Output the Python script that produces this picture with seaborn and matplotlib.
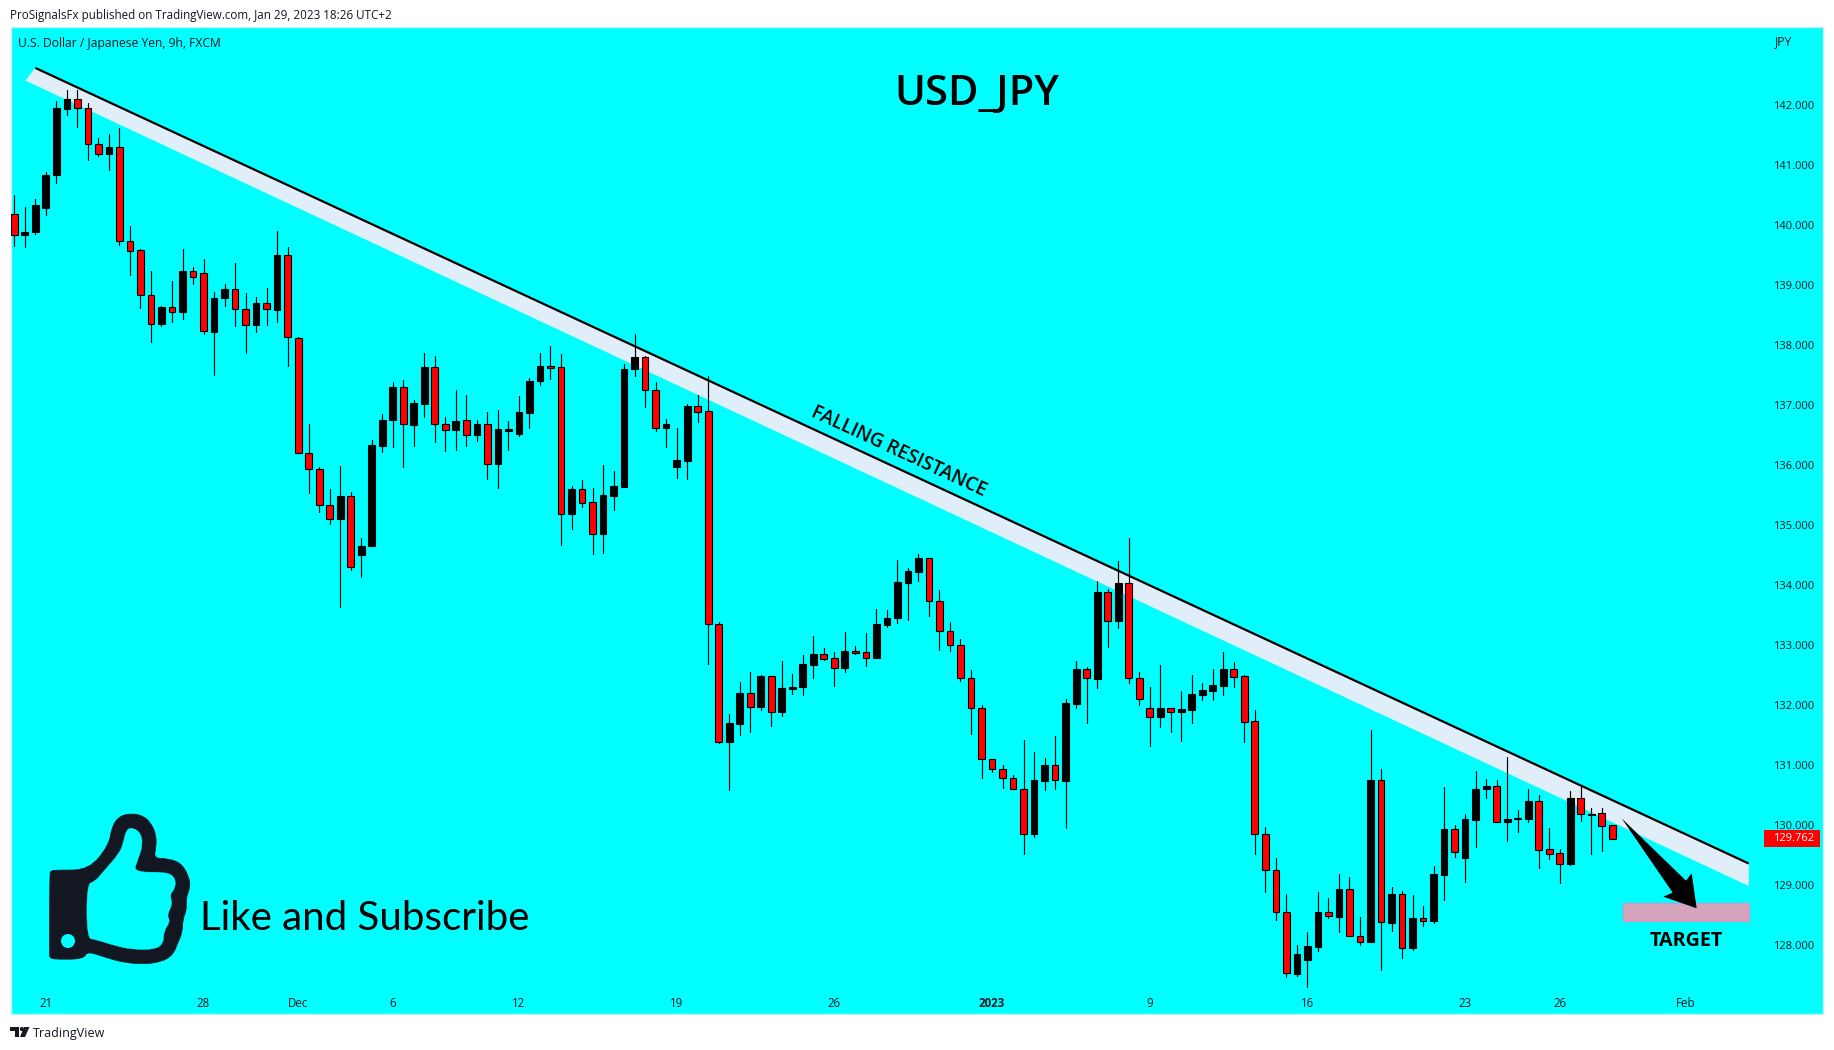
import pandas as pd
import seaborn as sns
import matplotlib.pyplot as plt
from matplotlib.patches import PathPatch, Polygon, Circle, Rectangle
from matplotlib.path import Path
from matplotlib.transforms import Affine2D

# candles (JPY)
highs = [140.49,140.29,140.43,140.87,142.06,142.24,142.24,142.02,141.45,141.51,
    141.61,139.97,139.60,139.23,138.65,139.06,139.59,139.29,139.42,138.88,
    139.01,139.36,138.86,138.79,138.94,139.89,139.62,138.12,136.68,135.96,
    135.59,135.97,135.54,134.77,136.41,136.85,137.38,137.41,137.08,137.86,
    137.81,136.79,137.24,137.16,136.74,136.87,136.91,136.72,137.14,137.44,
    137.86,137.97,137.84,135.64,135.74,135.61,135.99,135.89,137.67,138.17,
    137.81,137.37,136.76,136.61,137.01,137.16,137.47,133.37,131.84,132.37,
    132.54,132.50,132.48,132.73,132.51,132.83,133.14,132.94,132.88,133.21,
    132.98,133.19,133.59,133.58,134.41,134.28,134.51,134.45,133.91,133.38,
    133.09,132.58,131.99,131.10,130.99,130.82,131.41,131.21,131.11,131.48,
    132.09,132.73,132.63,134.06,133.92,134.39,134.78,132.54,132.29,132.66,
    131.95,132.22,132.49,132.36,132.59,132.87,132.71,132.49,131.91,129.96,
    129.44,128.84,127.99,128.21,128.87,128.77,129.17,129.12,128.46,131.57,
    130.92,128.96,128.89,128.82,128.64,129.31,130.62,129.99,130.17,130.89,
    130.76,130.74,131.12,130.24,130.59,130.49,129.95,129.59,130.56,130.63,
    130.27,130.27,129.99]
lows = [139.64,139.62,139.84,140.16,140.70,141.82,141.63,141.07,141.14,140.91,
    139.66,139.16,138.61,138.04,138.31,138.38,138.42,139.01,138.17,137.49,
    138.64,138.31,137.86,138.21,138.32,138.38,137.64,136.19,135.52,135.21,
    135.01,133.62,134.24,134.12,134.64,136.21,136.29,135.96,136.31,136.79,
    136.37,136.22,136.24,136.31,136.39,135.76,135.61,136.24,136.48,136.61,
    137.33,137.42,134.66,134.92,135.29,134.51,134.52,135.24,135.62,137.47,
    136.96,136.56,136.29,135.77,135.76,136.71,132.67,131.36,130.57,131.49,
    131.54,131.91,131.64,131.81,132.18,132.16,132.44,132.74,132.31,132.54,
    132.84,132.64,132.77,133.29,133.36,133.41,134.06,133.48,132.91,132.89,
    132.39,131.51,130.78,130.88,130.61,130.60,129.51,129.79,130.58,130.59,
    129.94,131.94,131.69,132.28,132.96,133.28,132.36,131.99,131.31,131.62,
    131.54,131.39,131.69,132.07,132.07,132.16,132.29,131.37,129.51,128.87,
    128.41,127.46,127.47,127.30,127.89,128.45,128.21,128.15,127.99,128.04,
    127.57,128.22,127.77,127.91,128.31,128.36,128.74,129.46,129.04,129.62,
    130.44,130.05,129.72,129.87,130.04,129.27,129.43,129.03,129.33,130.06,
    129.51,129.56,129.76]
opens = [140.18,139.83,139.87,140.28,140.82,141.93,142.10,141.95,141.35,141.18,
    141.30,139.72,139.57,138.83,138.35,138.62,138.55,139.22,139.20,138.21,
    138.77,138.92,138.60,138.32,138.69,138.58,139.50,138.11,136.20,135.92,
    135.33,135.09,135.47,134.49,134.65,136.31,136.75,137.30,136.66,137.01,
    137.63,136.68,136.58,136.74,136.50,136.67,136.01,136.56,136.51,136.86,
    137.40,137.65,137.62,135.18,135.59,135.37,134.85,135.48,135.63,137.60,
    137.79,137.25,136.61,135.96,136.06,136.97,136.89,133.35,131.38,131.68,
    132.19,131.96,132.47,131.88,132.26,132.30,132.66,132.84,132.77,132.61,
    132.90,132.87,132.78,133.33,133.45,134.03,134.21,134.45,133.72,133.22,
    133.00,132.45,131.94,131.10,130.92,130.77,130.60,129.85,130.73,131.00,
    130.73,132.01,132.60,132.43,133.87,133.40,134.02,132.44,131.94,131.79,
    131.95,131.87,131.91,132.16,132.23,132.31,132.59,132.47,131.72,129.84,
    129.25,128.55,127.51,127.75,127.96,128.54,128.46,128.92,128.15,128.05,
    130.74,128.36,128.85,127.95,128.45,128.40,129.16,129.92,129.45,130.08,
    130.60,130.64,130.05,130.09,130.09,130.39,129.59,129.52,129.34,130.44,
    130.16,130.19,129.99]
closes = [139.83,139.87,140.33,140.82,141.94,142.10,141.95,141.35,141.18,141.30,
    139.72,139.56,138.83,138.35,138.62,138.55,139.22,139.13,138.22,138.77,
    138.92,138.60,138.32,138.69,138.59,139.50,138.12,136.20,135.92,135.33,
    135.10,135.47,134.30,134.65,136.32,136.75,137.30,136.67,137.02,137.63,
    136.68,136.58,136.73,136.50,136.67,136.01,136.59,136.59,136.87,137.40,
    137.65,137.61,135.18,135.59,135.36,134.85,135.49,135.64,137.60,137.79,
    137.25,136.61,136.67,136.07,136.97,136.88,133.35,131.38,131.69,132.19,
    131.96,132.47,131.88,132.27,132.30,132.67,132.84,132.76,132.61,132.90,
    132.86,132.78,133.34,133.45,134.04,134.22,134.45,133.72,133.22,133.00,
    132.45,131.94,131.10,130.92,130.77,130.60,129.85,130.74,131.00,130.74,
    132.02,132.60,132.44,133.87,133.40,134.02,132.44,132.10,131.80,131.95,
    131.88,131.92,132.17,132.24,132.32,132.59,132.46,131.71,129.84,129.25,
    128.55,127.52,127.85,127.97,128.54,128.47,128.92,128.15,128.05,130.74,
    128.37,128.85,127.95,128.45,128.40,129.17,129.92,129.55,130.09,130.60,
    130.64,130.05,130.10,130.11,130.39,129.58,129.51,129.34,130.44,130.17,
    130.18,129.98,129.76]

price_ticks = [128,129,130,131,132,133,134,135,136,137,138,139,140,141,142]
date_pos = [3,18,27,36,48,63,78,93,108,123,138,147,159]
date_labels = ['21','28','Dec','6','12','19','26','2023','9','16','23','26','Feb']
last_price = 129.762

# drawings on the chart, in bar number / price
trend_x = [2.0, 164.98]
trend_y = [142.61, 129.35]
band_x = [2.0, 1.05, 164.98, 164.98]
band_y = [142.61, 142.40, 128.975, 129.35]
target_x = [153.05, 165.03]
target_y = [128.39, 128.70]

W, H = 1834, 1050
CYAN = '#00ffff'
INK = '#131722'

sns.set_theme(style='white')
plt.rcParams['font.family'] = ['Open Sans', 'DejaVu Sans']

df = pd.DataFrame({'bar': range(len(opens)), 'open': opens, 'close': closes})
df['body'] = (df['close'] - df['open']).abs()
df['bottom'] = df[['open', 'close']].min(axis=1)

# two rows per bar, wick drawn as one line for each
wicks = pd.DataFrame({'bar': list(df['bar']) * 2, 'price': highs + lows})

fig = plt.figure(figsize=(W / 100, H / 100), dpi=100, facecolor='white')
ax = fig.add_axes([11 / W, 1 - 1014 / H, (1823 - 11) / W, (1014 - 27) / H])
ax.set_facecolor(CYAN)

ax.fill(band_x, band_y, color='#e0eefa', lw=0, zorder=1)

sns.lineplot(data=wicks, x='bar', y='price', units='bar', estimator=None, sort=False,
             color='black', lw=0.85, legend=False, zorder=2, ax=ax)

for up, fill in [(True, 'black'), (False, '#ff0000')]:
    part = df[(df['close'] >= df['open']) == up]
    sns.barplot(data=part, x='bar', y='body', bottom=part['bottom'].values, native_scale=True,
                color=fill, saturation=1, width=0.64, errorbar=None, edgecolor='black',
                linewidth=0.8, zorder=3, ax=ax)

ax.plot(trend_x, trend_y, color='black', lw=1.6, zorder=4, solid_capstyle='butt')
ax.add_patch(Rectangle((target_x[0], target_y[0]), target_x[1] - target_x[0], target_y[1] - target_y[0],
                       facecolor='#d6a3bd', edgecolor='#e08fc4', lw=0.8, zorder=4))

ax.set_xlim(-0.314, 172.04)
ax.set_ylim(126.842, 143.292)
ax.set_xlabel('')
ax.set_ylabel('')
ax.yaxis.tick_right()
ax.set_yticks(price_ticks)
ax.set_yticklabels([f'{p:.3f}' for p in price_ticks], fontsize=8, color=INK)
ax.set_xticks(date_pos)
ax.set_xticklabels(date_labels, fontsize=8.3, color=INK)
ax.get_xticklabels()[7].set_fontweight('bold')
ax.tick_params(axis='x', length=0, pad=-12)
ax.tick_params(axis='y', length=0, pad=-36)
for s in ax.spines.values():
    s.set_color('#c4f2f2')
    s.set_linewidth(1)

# picture pixels, for the hand drawn bits
px = Affine2D().scale(1, -1).translate(0, H)


def thumb_pts(pts):
    return [(x / 2.613, 780 + y / 3) for x, y in pts]


def smooth(pts):
    # closed curve through the midpoints, the listed points act as controls
    mids = [((pts[i][0] + pts[(i + 1) % len(pts)][0]) / 2, (pts[i][1] + pts[(i + 1) % len(pts)][1]) / 2)
            for i in range(len(pts))]
    verts = [mids[-1]]
    codes = [Path.MOVETO]
    for p, m in zip(pts, mids):
        verts += [p, m]
        codes += [Path.CURVE3, Path.CURVE3]
    return Path(verts, codes)


outer = [(130,285),(132,272),(150,270),(232,270),(285,195),(292,140),(312,108),(345,100),(375,108),
         (395,130),(408,165),(408,200),(402,235),(435,235),(472,248),(492,285),(498,320),(486,352),
         (488,390),(478,415),(476,460),(464,490),(452,525),(420,547),(370,552),(320,547),(270,530),
         (228,514),(218,537),(150,538),(130,535),(129,515)]
inner = [(227,312),(248,305),(270,275),(312,220),(322,190),(330,148),(348,143),(368,160),(373,195),
         (360,240),(348,277),(435,276),(457,292),(459,322),(443,345),(451,372),(436,405),(445,425),
         (428,452),(427,490),(405,508),(350,509),(300,497),(250,478),(227,475)]
fig.add_artist(PathPatch(smooth(thumb_pts(outer)), facecolor=INK, edgecolor=INK, lw=0.5, transform=px))
fig.add_artist(PathPatch(smooth(thumb_pts(inner)), facecolor=CYAN, edgecolor=CYAN, lw=0.3, transform=px))
fig.add_artist(Circle((68, 941), 7, facecolor=CYAN, edgecolor='none', transform=px))

# arrow to the target box
arrow = [(665,295),(858,482),(875,460),(890,565),(790,530),(818,518)]
fig.add_artist(Polygon([(1400 + x / 3, 720 + y / 3) for x, y in arrow], closed=True,
                       facecolor='black', edgecolor='none', transform=px, zorder=5))

# TradingView mark
logo_t = [(10,1027),(19,1027),(19,1037),(15,1037),(15,1031),(10,1031)]
logo_v = [(24,1027),(29.5,1027),(25,1037),(20,1037)]
fig.add_artist(Polygon(logo_t, closed=True, facecolor=INK, edgecolor='none', transform=px))
fig.add_artist(Polygon(logo_v, closed=True, facecolor=INK, edgecolor='none', transform=px))
fig.add_artist(Circle((21.8, 1029), 2, facecolor=INK, edgecolor='none', transform=px))


def put(x, y, s, size, **kw):
    kw.setdefault('va', 'center')
    kw.setdefault('color', INK)
    return fig.text(x / W, 1 - y / H, s, fontsize=size, **kw)


put(10, 16, 'ProSignalsFx published on TradingView.com, Jan 29, 2023 18:26 UTC+2', 8.35)
put(18, 43, 'U.S. Dollar / Japanese Yen, 9h, FXCM', 8.7)
put(1775, 42, 'JPY', 8.7)
put(32.5, 1034, 'TradingView', 9)
put(977, 94, 'USD_JPY', 30, ha='center', color='black', fontweight='semibold')
put(200, 919, 'Like and Subscribe', 29, color='black', family=['Lato', 'DejaVu Sans'])
put(1686, 941, 'TARGET', 14.2, ha='center', color='black', fontweight='bold')
put(899, 452, 'FALLING RESISTANCE', 13.7, ha='center', color='black', rotation=-24.9,
    rotation_mode='anchor', fontweight='semibold')

# last price badge
fig.add_artist(Rectangle((1764, 830), 55.5, 17, facecolor='#ff0000', edgecolor='none', transform=px, zorder=6))
put(1793.5, 838.5, f'{last_price:.3f}', 8, ha='center', color='white', zorder=7)

plt.savefig('out.png', dpi=100, facecolor='white')
